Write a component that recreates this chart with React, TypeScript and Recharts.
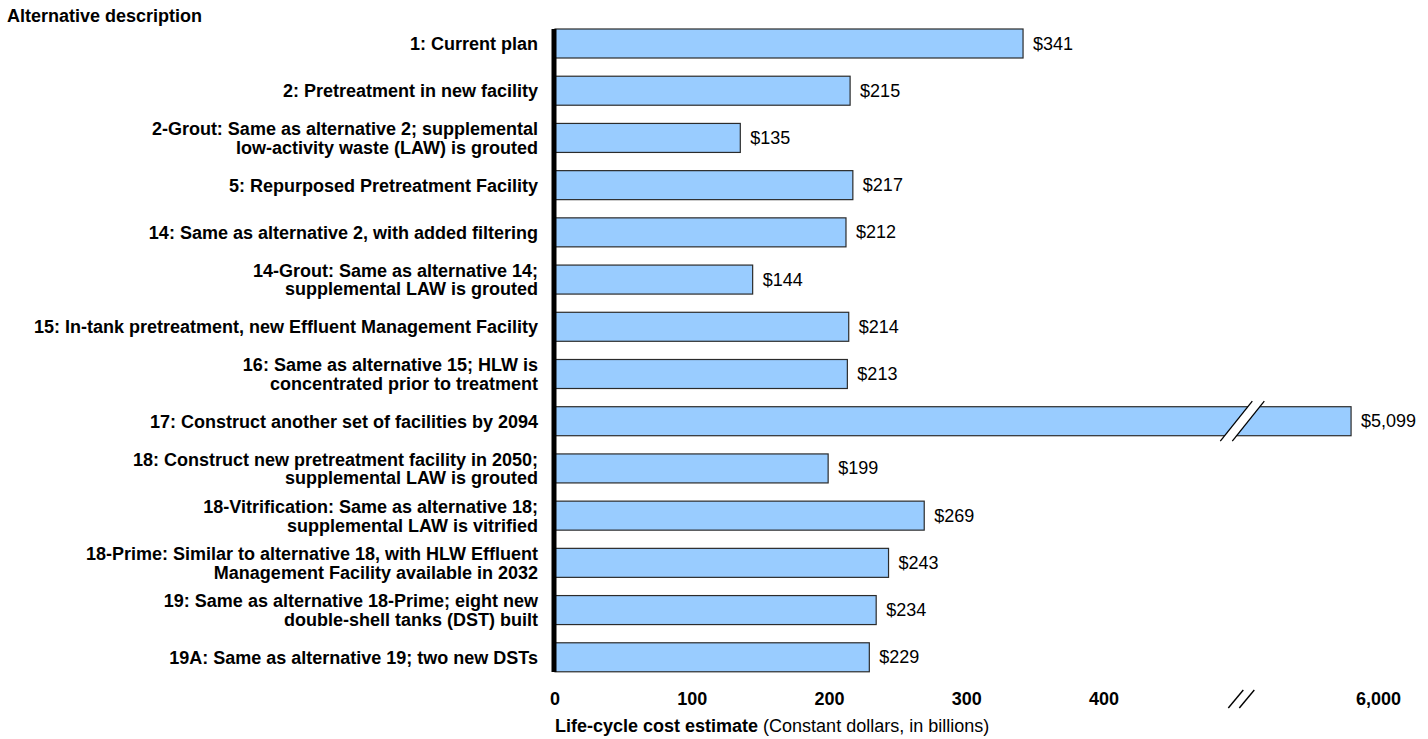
import { BarChart, Bar, XAxis, YAxis, LabelList, ReferenceLine } from 'recharts'

const FONT = 'Arial, "Liberation Sans", Helvetica, sans-serif'

// one entry per alternative, '\n' splits the two-line labels
const alternatives = [
  '1: Current plan',
  '2: Pretreatment in new facility',
  '2-Grout: Same as alternative 2; supplemental\nlow-activity waste (LAW) is grouted',
  '5: Repurposed Pretreatment Facility',
  '14: Same as alternative 2, with added filtering',
  '14-Grout: Same as alternative 14;\nsupplemental LAW is grouted',
  '15: In-tank pretreatment, new Effluent Management Facility',
  '16: Same as alternative 15; HLW is\nconcentrated prior to treatment',
  '17: Construct another set of facilities by 2094',
  '18: Construct new pretreatment facility in 2050;\nsupplemental LAW is grouted',
  '18-Vitrification: Same as alternative 18;\nsupplemental LAW is vitrified',
  '18-Prime: Similar to alternative 18, with HLW Effluent\nManagement Facility available in 2032',
  '19: Same as alternative 18-Prime; eight new\ndouble-shell tanks (DST) built',
  '19A: Same as alternative 19; two new DSTs',
]

// billions of constant dollars
const costs = [341, 215, 135, 217, 212, 144, 214, 213, 5099, 199, 269, 243, 234, 229]

// broken axis: linear up to 500, then a squeezed segment ending at 6,000
const BREAK_AT = 500
const BREAK_LOW = 1500
const TOP_VALUE = 6000
const TOP_AT = 600

const xTicks = [0, 100, 200, 300, 400, 500, 600]
const xTickLabels = ['0', '100', '200', '300', '400', '//', '6,000']

const BAR_SIZE = 29

const toAxis = (v: number) =>
  v <= BREAK_AT ? v : BREAK_AT + ((v - BREAK_LOW) / (TOP_VALUE - BREAK_LOW)) * (TOP_AT - BREAK_AT)

const data = alternatives.map((name, i) => ({ name, cost: costs[i], plot: toAxis(costs[i]) }))

const money = (n: number) => '$' + n.toLocaleString('en-US')

function YTick({ x, y, payload }: any) {
  const lines: string[] = String(payload.value).split('\n')
  const lh = 18.5
  const start = y - ((lines.length - 1) * lh) / 2 + 0.5
  return (
    <text x={x - 9} y={start} textAnchor="end" fontFamily={FONT} fontSize={18} fontWeight="bold" fill="#000">
      {lines.map((l, i) => (
        <tspan key={i} x={x - 9} y={start + i * lh} dominantBaseline="central">{l}</tspan>
      ))}
    </text>
  )
}

function XTick({ x, y, payload }: any) {
  const idx = xTicks.indexOf(payload.value)
  const label = xTickLabels[idx]
  const cy = y + 10
  if (label === '//') {
    return (
      <g stroke="#000" strokeWidth={1.4}>
        <line x1={x - 13} y1={cy + 9} x2={x + 2} y2={cy - 9} />
        <line x1={x - 2} y1={cy + 9} x2={x + 13} y2={cy - 9} />
      </g>
    )
  }
  return (
    <text x={x} y={cy} textAnchor="middle" dominantBaseline="central"
      fontFamily={FONT} fontSize={18} fontWeight="bold" fill="#000">
      {label}
    </text>
  )
}

function BrokenBar(props: any) {
  const { x, y, width, height, payload } = props
  const cy = y + height / 2
  const out = [
    <rect key="r" x={x} y={y} width={width} height={height} fill="#99ccff" stroke="#2b2b2b" strokeWidth={1.2} />,
  ]
  if (payload.cost > BREAK_AT) {
    const bx = x + width * (BREAK_AT / payload.plot) + 1
    out.push(
      <polygon key="p" points={`${bx - 22},${cy + 20} ${bx + 10},${cy - 20} ${bx + 22},${cy - 20} ${bx - 10},${cy + 20}`}
        fill="#fff" stroke="none" />,
      <line key="l1" x1={bx - 22} y1={cy + 20} x2={bx + 10} y2={cy - 20} stroke="#000" strokeWidth={1.3} />,
      <line key="l2" x1={bx - 10} y1={cy + 20} x2={bx + 22} y2={cy - 20} stroke="#000" strokeWidth={1.3} />,
    )
  }
  return <g>{out}</g>
}

// the thick value axis only runs from the first bar's top to the last bar's bottom
function AxisLine(props: any) {
  const { x1, y1, x2, y2 } = props
  const top = Math.min(y1, y2)
  const bottom = Math.max(y1, y2)
  const band = (bottom - top) / alternatives.length
  const inset = (band - BAR_SIZE) / 2
  return <line x1={x1 - 1} y1={top + inset} x2={x2 - 1} y2={bottom - inset} stroke="#000" strokeWidth={5} />
}

function ValueLabel(props: any) {
  const { x, y, width, height, value } = props
  return (
    <text x={x + width + 10} y={y + height / 2} dominantBaseline="central"
      fontFamily={FONT} fontSize={18} fill="#000">
      {money(value)}
    </text>
  )
}

function AxisTitle({ viewBox }: any) {
  return (
    <text x={viewBox.x} y={726} dominantBaseline="central" fontFamily={FONT} fontSize={18} fill="#000">
      <tspan fontWeight="bold">Life-cycle cost estimate</tspan>
      <tspan> (Constant dollars, in billions)</tspan>
    </text>
  )
}

export default function App() {
  return (
    <div style={{ position: 'fixed', left: 0, top: 0, width: 1428, height: 739, background: '#fff' }}>
      <div style={{
        position: 'absolute', left: 7, top: 7, fontFamily: FONT, fontSize: 18,
        fontWeight: 'bold', lineHeight: '18px', color: '#000',
      }}>
        Alternative description
      </div>
      <BarChart width={1428} height={739} data={data} layout="vertical"
        margin={{ top: 20, right: 22, left: 0, bottom: 12 }}>
        <XAxis type="number" domain={[0, 620]} ticks={xTicks} interval={0}
          axisLine={false} tickLine={false} height={46} tick={<XTick />}
          label={<AxisTitle />} />
        <YAxis type="category" dataKey="name" width={555} interval={0}
          axisLine={false} tickLine={false} tick={<YTick />} />
        <Bar dataKey="plot" barSize={BAR_SIZE} shape={BrokenBar} isAnimationActive={false}>
          <LabelList dataKey="cost" content={ValueLabel} />
        </Bar>
        <ReferenceLine x={0} shape={AxisLine} ifOverflow="visible" zIndex={1000} />
      </BarChart>
    </div>
  )
}
